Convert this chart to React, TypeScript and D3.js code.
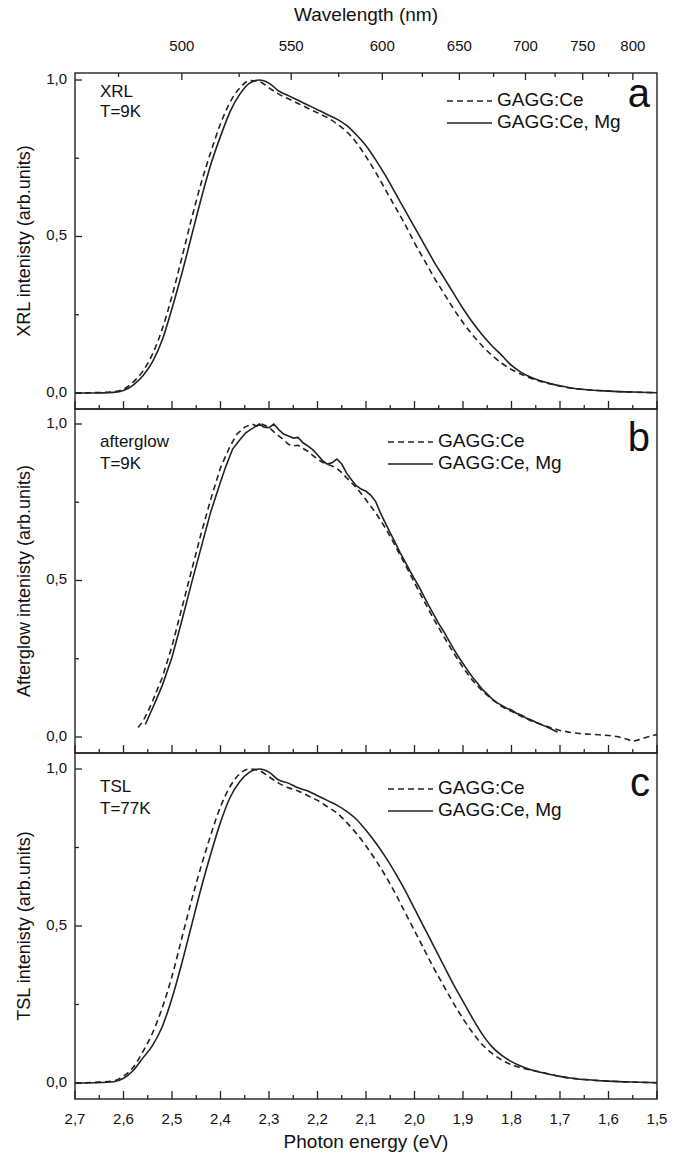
import * as d3 from "d3";

// photon energy grid (eV) shared by XRL and TSL spectra
const energyGrid = [
  2.7, 2.66, 2.62, 2.6, 2.58, 2.56, 2.54, 2.52, 2.5, 2.48, 2.46, 2.44, 2.42, 2.4, 2.38, 2.36, 2.34, 2.32,
  2.3, 2.28, 2.26, 2.24, 2.22, 2.2, 2.18, 2.16, 2.14, 2.12, 2.1, 2.08, 2.06, 2.04, 2.02, 2.0, 1.98, 1.96,
  1.94, 1.92, 1.9, 1.88, 1.86, 1.84, 1.82, 1.8, 1.78, 1.76, 1.74, 1.72, 1.7, 1.68, 1.65, 1.6, 1.55, 1.5
];

const xrlCe = [
  0, 0.001, 0.004, 0.012, 0.035, 0.07, 0.125, 0.205, 0.31, 0.43, 0.555, 0.67, 0.77, 0.86, 0.93, 0.975, 0.998, 0.995,
  0.975, 0.955, 0.94, 0.925, 0.91, 0.895, 0.88, 0.86, 0.835, 0.8, 0.755, 0.705, 0.65, 0.595, 0.54, 0.48, 0.425, 0.37,
  0.32, 0.27, 0.225, 0.185, 0.15, 0.12, 0.095, 0.075, 0.06, 0.047, 0.037, 0.029, 0.022, 0.016, 0.011, 0.006, 0.003, 0.001
];
const xrlCeMg = [
  0, 0, 0.002, 0.008, 0.025, 0.055, 0.1, 0.17, 0.27, 0.38, 0.5, 0.62, 0.73, 0.82, 0.9, 0.955, 0.99, 1.0,
  0.99, 0.965, 0.95, 0.935, 0.92, 0.905, 0.89, 0.875, 0.855, 0.825, 0.79, 0.745, 0.695, 0.64, 0.585, 0.53, 0.475, 0.42,
  0.37, 0.32, 0.27, 0.225, 0.185, 0.15, 0.12, 0.088, 0.066, 0.05, 0.039, 0.03, 0.023, 0.017, 0.011, 0.006, 0.003, 0.001
];

const tslCe = [
  0, 0.002, 0.007, 0.022, 0.05, 0.1, 0.16, 0.24, 0.34, 0.46, 0.58, 0.69, 0.79, 0.88, 0.945, 0.985, 1.0, 0.995,
  0.975, 0.955, 0.94, 0.93, 0.915, 0.9, 0.88, 0.86, 0.83, 0.795, 0.755, 0.71, 0.66, 0.605, 0.545, 0.485, 0.425, 0.365,
  0.31, 0.255, 0.205, 0.16, 0.122, 0.094, 0.073, 0.058, 0.048, 0.041, 0.035, 0.028, 0.021, 0.016, 0.011, 0.006, 0.003, 0.001
];
const tslCeMg = [
  0, 0.001, 0.004, 0.015, 0.04, 0.08, 0.12, 0.18, 0.27, 0.38, 0.5, 0.62, 0.73, 0.83, 0.91, 0.96, 0.99, 1.0,
  0.99, 0.965, 0.955, 0.94, 0.93, 0.915, 0.9, 0.885, 0.865, 0.84, 0.805, 0.765, 0.72, 0.67, 0.615, 0.555, 0.495, 0.435,
  0.375, 0.315, 0.26, 0.205, 0.155, 0.115, 0.088, 0.068, 0.053, 0.042, 0.034, 0.027, 0.021, 0.016, 0.011, 0.006, 0.003, 0.001
];

// afterglow spectra are noisy and cover different ranges: [eV, intensity]
const afterglowCe: [number, number][] = [
  [2.57, 0.03], [2.56, 0.05], [2.55, 0.08], [2.54, 0.115], [2.52, 0.19], [2.5, 0.29], [2.48, 0.41], [2.46, 0.53],
  [2.44, 0.65], [2.42, 0.76], [2.4, 0.86], [2.38, 0.93], [2.366, 0.968], [2.35, 0.99], [2.335, 1.0], [2.325, 0.993],
  [2.315, 1.0], [2.3, 0.99], [2.29, 0.975], [2.28, 0.962], [2.27, 0.95], [2.26, 0.935], [2.25, 0.93], [2.24, 0.932],
  [2.23, 0.922], [2.22, 0.913], [2.21, 0.9], [2.2, 0.888], [2.19, 0.878], [2.18, 0.872], [2.17, 0.866], [2.16, 0.858],
  [2.15, 0.845], [2.14, 0.828], [2.12, 0.797], [2.1, 0.758], [2.08, 0.716], [2.06, 0.668], [2.04, 0.612], [2.02, 0.553],
  [2.0, 0.493], [1.98, 0.433], [1.96, 0.376], [1.94, 0.322], [1.92, 0.27], [1.9, 0.222], [1.88, 0.18], [1.86, 0.147],
  [1.84, 0.12], [1.82, 0.097], [1.8, 0.082], [1.78, 0.066], [1.76, 0.052], [1.74, 0.041], [1.72, 0.03], [1.7, 0.021],
  [1.68, 0.015], [1.66, 0.011], [1.64, 0.009], [1.62, 0.007], [1.6, 0.005], [1.58, 0.001], [1.56, -0.008], [1.55, -0.014],
  [1.54, -0.01], [1.52, 0.0], [1.5, 0.008]
];
const afterglowCeMg: [number, number][] = [
  [2.555, 0.04], [2.545, 0.075], [2.535, 0.11], [2.52, 0.165], [2.5, 0.255], [2.48, 0.37], [2.46, 0.49], [2.44, 0.605],
  [2.42, 0.72], [2.4, 0.815], [2.39, 0.86], [2.375, 0.92], [2.36, 0.95], [2.348, 0.972], [2.335, 0.985], [2.32, 1.0],
  [2.31, 0.99], [2.3, 0.988], [2.29, 1.0], [2.28, 0.982], [2.27, 0.968], [2.26, 0.962], [2.25, 0.955], [2.24, 0.957],
  [2.23, 0.94], [2.22, 0.93], [2.21, 0.918], [2.2, 0.902], [2.19, 0.884], [2.18, 0.872], [2.17, 0.876], [2.16, 0.888],
  [2.15, 0.872], [2.14, 0.843], [2.13, 0.822], [2.12, 0.803], [2.11, 0.792], [2.1, 0.785], [2.09, 0.772], [2.08, 0.752],
  [2.07, 0.715], [2.06, 0.683], [2.05, 0.652], [2.04, 0.622], [2.03, 0.59], [2.02, 0.562], [2.01, 0.532], [2.0, 0.505],
  [1.99, 0.478], [1.98, 0.448], [1.97, 0.418], [1.96, 0.39], [1.95, 0.362], [1.94, 0.338], [1.93, 0.31], [1.92, 0.283],
  [1.91, 0.258], [1.9, 0.235], [1.89, 0.212], [1.88, 0.19], [1.87, 0.172], [1.86, 0.152], [1.85, 0.137], [1.84, 0.122],
  [1.83, 0.11], [1.82, 0.101], [1.81, 0.092], [1.8, 0.086], [1.79, 0.076], [1.78, 0.07], [1.77, 0.061], [1.76, 0.055],
  [1.75, 0.047], [1.74, 0.041], [1.73, 0.034], [1.72, 0.027], [1.71, 0.019], [1.705, 0.016]
];

const wavelengthTicks = [500, 550, 600, 650, 700, 750, 800];
const wavelengthMinor = [475, 525, 575, 625, 675, 725, 775];
const yTicks = [0, 0.5, 1];
const yMinor = [0.25, 0.75];
const legendLabels = ["GAGG:Ce", "GAGG:Ce, Mg"];

const W = 686;
const H = 1163;
const FONT = "'Liberation Sans', Arial, sans-serif";
const INK = "#222";
const HC = 1239.84; // eV*nm

const x = d3.scaleLinear().domain([2.7, 1.5]).range([75, 657]);
const fmt = (v: number) => d3.format(".1f")(v).replace(".", ",");

const panels = [
  {
    id: "a", title: "XRL intenisty (arb.units)", lines: ["XRL", "T=9K"],
    top: 73, bottom: 409, y0: 393, y1: 80, legendX: 447, textDy: [17, 37], legendDy: [21, 43],
    ce: energyGrid.map((e, i) => [e, xrlCe[i]] as [number, number]),
    mg: energyGrid.map((e, i) => [e, xrlCeMg[i]] as [number, number]),
    smooth: true
  },
  {
    id: "b", title: "Afterglow intenisty (arb.units)", lines: ["afterglow", "T=9K"],
    top: 409, bottom: 753, y0: 737, y1: 424, legendX: 388, textDy: [23, 45], legendDy: [18, 40],
    ce: afterglowCe, mg: afterglowCeMg, smooth: false
  },
  {
    id: "c", title: "TSL intenisty (arb.units)", lines: ["TSL", "T=77K"],
    top: 753, bottom: 1099, y0: 1083, y1: 769, legendX: 388, textDy: [23, 45], legendDy: [20, 42],
    ce: energyGrid.map((e, i) => [e, tslCe[i]] as [number, number]),
    mg: energyGrid.map((e, i) => [e, tslCeMg[i]] as [number, number]),
    smooth: true
  }
];

function Panel({ p, last }: { p: (typeof panels)[number]; last: boolean }) {
  const y = d3.scaleLinear().domain([0, 1]).range([p.y0, p.y1]);
  const line = d3
    .line<[number, number]>()
    .x(d => x(d[0]))
    .y(d => y(d[1]))
    .curve(p.smooth ? d3.curveMonotoneX : d3.curveLinear);
  const [L, R] = x.range();
  const eTicks = x.ticks(24);
  const mid = (p.top + p.bottom) / 2;

  return (
    <g>
      <rect x={L} y={p.top} width={R - L} height={p.bottom - p.top} fill="none" stroke={INK} strokeWidth={1.4} />
      {eTicks.map((t, i) => {
        const major = Math.round(t * 100) % 10 === 0;
        return (
          <line key={i} x1={x(t)} x2={x(t)} y1={p.bottom} y2={p.bottom - (major ? 8 : 4)} stroke={INK} strokeWidth={1.3} />
        );
      })}
      {yTicks.map(t => (
        <g key={t}>
          <line x1={L} x2={L + 7} y1={y(t)} y2={y(t)} stroke={INK} strokeWidth={1.3} />
          <text x={L - 8} y={y(t)} textAnchor="end" dominantBaseline="middle" fontSize={15}>{fmt(t)}</text>
        </g>
      ))}
      {yMinor.map(t => (
        <line key={t} x1={L} x2={L + 4} y1={y(t)} y2={y(t)} stroke={INK} strokeWidth={1.3} />
      ))}
      <text transform={`translate(25,${mid}) rotate(-90)`} textAnchor="middle" dominantBaseline="middle" fontSize={18}>
        {p.title}
      </text>
      <path d={line(p.ce) || ""} fill="none" stroke={INK} strokeWidth={1.6} strokeDasharray="6,4" />
      <path d={line(p.mg) || ""} fill="none" stroke={INK} strokeWidth={1.6} />
      <text x={100} y={p.y1 + p.textDy[0]} fontSize={17}>{p.lines[0]}</text>
      <text x={100} y={p.y1 + p.textDy[1]} fontSize={17}>{p.lines[1]}</text>
      {legendLabels.map((lab, i) => {
        const ly = p.y1 + p.legendDy[i];
        return (
          <g key={lab}>
            <line x1={p.legendX} x2={p.legendX + 45} y1={ly} y2={ly} stroke={INK} strokeWidth={1.6}
              strokeDasharray={i === 0 ? "6,4" : undefined} />
            <text x={p.legendX + 50} y={ly} dominantBaseline="middle" fontSize={19}>{lab}</text>
          </g>
        );
      })}
      <text x={650} y={p.y1 + 27} textAnchor="end" fontSize={40}>{p.id}</text>
      {last &&
        x.ticks(12).map(t => (
          <text key={t} x={x(t)} y={p.bottom + 21} textAnchor="middle" dominantBaseline="middle" fontSize={15}>
            {fmt(t)}
          </text>
        ))}
    </g>
  );
}

export default function App() {
  const top = panels[0].top;
  return (
    <div style={{ position: "absolute", left: 0, top: 0 }}>
      <svg width={W} height={H} fontFamily={FONT} fill="#111" style={{ display: "block", background: "#fff" }}>
        {panels.map((p, i) => (
          <Panel key={p.id} p={p} last={i === panels.length - 1} />
        ))}
        {wavelengthTicks.map(w => (
          <g key={w}>
            <line x1={x(HC / w)} x2={x(HC / w)} y1={top} y2={top + 7} stroke={INK} strokeWidth={1.3} />
            <text x={x(HC / w)} y={47} textAnchor="middle" dominantBaseline="middle" fontSize={15}>{w}</text>
          </g>
        ))}
        {wavelengthMinor.map(w => (
          <line key={w} x1={x(HC / w)} x2={x(HC / w)} y1={top} y2={top + 4} stroke={INK} strokeWidth={1.3} />
        ))}
        <text x={(x.range()[0] + x.range()[1]) / 2} y={16} textAnchor="middle" dominantBaseline="middle" fontSize={19}>
          Wavelength (nm)
        </text>
        <text x={(x.range()[0] + x.range()[1]) / 2} y={1143} textAnchor="middle" dominantBaseline="middle" fontSize={19}>
          Photon energy (eV)
        </text>
      </svg>
    </div>
  );
}
